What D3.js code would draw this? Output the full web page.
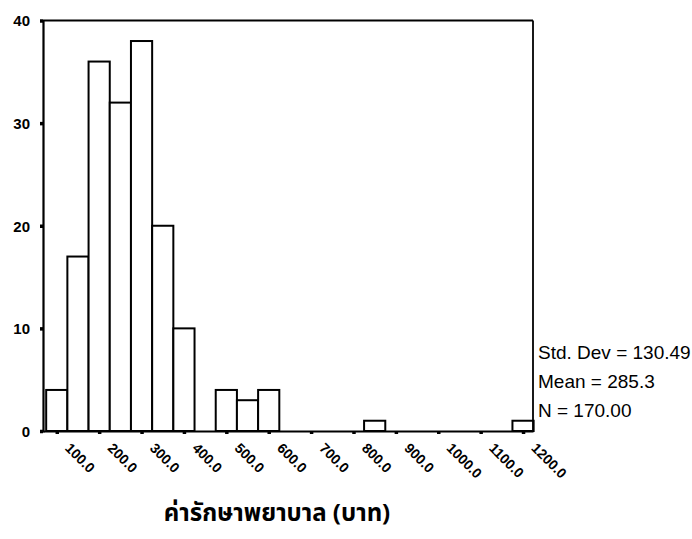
<!DOCTYPE html>
<html>
<head>
<meta charset="utf-8">
<script src="https://cdn.jsdelivr.net/npm/d3@7"></script>
<style>
  html, body { margin: 0; padding: 0; background: #fff; }
  svg { display: block; }
</style>
</head>
<body>
<svg id="chart" width="692" height="539"></svg>
<script>
// Histogram bins (centre of each 50-wide bin) and counts
const binCenters = [100, 150, 200, 250, 300, 350, 400, 450, 500, 550, 600, 650, 700, 750, 800, 850, 900, 950, 1000, 1050, 1100, 1150, 1200];
const counts     = [4,   17,  36,  32,  38,  20,  10,  0,   4,   3,   4,   0,   0,   0,   0,   1,   0,   0,   0,    0,    0,    0,    1];
const binWidth = 50;
const xTickValues = [100, 200, 300, 400, 500, 600, 700, 800, 900, 1000, 1100, 1200];
const yTickValues = [0, 10, 20, 30, 40];
const statsLines = ["Std. Dev = 130.49", "Mean = 285.3", "N = 170.00"];
const xTitle = "ค่ารักษาพยาบาล (บาท)";

const svg = d3.select("#chart");
const pLeft = 43, pRight = 533, pTop = 20.5, pBottom = 431;

const x = d3.scaleLinear().domain([67.5, 1223.5]).range([pLeft, pRight]);
const y = d3.scaleLinear().domain([0, 40]).range([pBottom, pTop]);

const data = binCenters.map((c, i) => ({c, n: counts[i]}));

// bars
svg.append("g").selectAll("rect")
  .data(data.filter(d => d.n > 0))
  .join("rect")
  .attr("x", d => x(d.c - binWidth / 2))
  .attr("y", d => y(d.n))
  .attr("width", d => x(d.c + binWidth / 2) - x(d.c - binWidth / 2))
  .attr("height", d => y(0) - y(d.n))
  .attr("fill", "#fff")
  .attr("stroke", "#000")
  .attr("stroke-width", 2);

// frame
svg.append("line").attr("x1", pLeft).attr("x2", pRight).attr("y1", pTop).attr("y2", pTop)
  .attr("stroke", "#000").attr("stroke-width", 1.8);
svg.append("line").attr("x1", pRight).attr("x2", pRight).attr("y1", pTop).attr("y2", pBottom)
  .attr("stroke", "#000").attr("stroke-width", 1.8);

// y axis
const yAxis = d3.axisLeft(y).tickValues(yTickValues).tickSize(3).tickPadding(10).tickFormat(d3.format("d"));
const gy = svg.append("g").attr("transform", `translate(${pLeft},0)`).call(yAxis);
gy.select(".domain").attr("stroke-width", 2.2);
gy.selectAll(".tick line").attr("stroke-width", 3.5);
gy.selectAll(".tick text")
  .attr("font-family", "Liberation Sans, Arial, sans-serif")
  .attr("font-size", 15).attr("font-weight", "bold").attr("fill", "#000")
  .attr("dy", "0.36em");

// x axis
const xAxis = d3.axisBottom(x).tickValues(xTickValues).tickSize(3).tickSizeOuter(0).tickFormat(d3.format(".1f"));
const gx = svg.append("g").attr("transform", `translate(0,${pBottom})`).call(xAxis);
gx.select(".domain").attr("stroke-width", 2.2);
gx.selectAll(".tick line").attr("stroke-width", 3.5);
gx.selectAll(".tick text")
  .attr("font-family", "Liberation Sans, Arial, sans-serif")
  .attr("font-size", 14).attr("font-weight", "bold").attr("fill", "#000")
  .attr("text-anchor", "start")
  .attr("y", 0).attr("dy", 0)
  .attr("transform", "translate(7,18) rotate(45)");

// stats
svg.append("g").selectAll("text")
  .data(statsLines)
  .join("text")
  .attr("x", 538)
  .attr("y", (d, i) => 359 + i * 29)
  .attr("font-family", "Liberation Sans, Arial, sans-serif")
  .attr("font-size", 19)
  .attr("fill", "#000")
  .text(d => d);

// x title
svg.append("text")
  .attr("x", 277).attr("y", 521)
  .attr("text-anchor", "middle")
  .attr("font-family", "'Noto Sans Thai', 'Tahoma', 'Noto Sans', sans-serif")
  .attr("font-size", 24).attr("font-weight", "bold")
  .attr("fill", "#000")
  .text(xTitle);
</script>
</body>
</html>
